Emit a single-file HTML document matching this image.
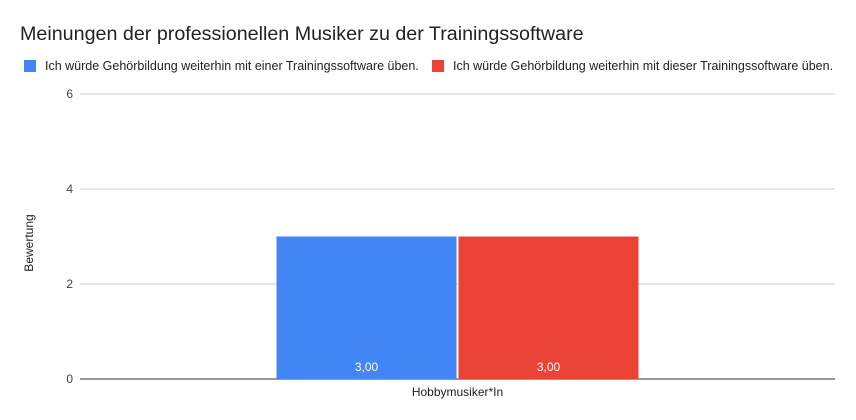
<!DOCTYPE html>
<html><head><meta charset="utf-8"><style>
body{margin:0;background:#fff;}
svg{display:block;font-family:"Liberation Sans",Arial,sans-serif;}
</style></head><body>
<svg id="chart" width="856" height="420">
<text x="20" y="40" font-size="19.7" fill="#222">Meinungen der professionellen Musiker zu der Trainingssoftware</text>
<g>
<rect x="24" y="60" width="12" height="12" fill="#4285f4"/>
<text x="45" y="70" font-size="12.5" fill="#222">Ich würde Gehörbildung weiterhin mit einer Trainingssoftware üben.</text>
<rect x="432" y="60" width="12" height="12" fill="#ea4335"/>
<text x="453" y="70" font-size="12.5" fill="#222">Ich würde Gehörbildung weiterhin mit dieser Trainingssoftware üben.</text>
</g>
<text transform="translate(33,243) rotate(-90)" text-anchor="middle" font-size="12" fill="#222">Bewertung</text>
<g id="grid"></g><g id="bars"></g>
</svg>
<script>
const categories=["Hobbymusiker*In"];
const seriesA=[3];
const seriesB=[3];
const yTicks=[0,2,4,6];
const yTickLabels=["0","2","4","6"];
const ns="http://www.w3.org/2000/svg";
const x0=80,x1=835,yTop=94,yBot=379,yMax=6;
const y=v=>yBot-(v/yMax)*(yBot-yTop);
const grid=document.getElementById('grid'),bars=document.getElementById('bars');
function mk(t,a,p){const e=document.createElementNS(ns,t);for(const k in a)e.setAttribute(k,a[k]);p.appendChild(e);return e;}
yTicks.forEach((t,i)=>{
 const l=mk('line',{x1:x0,x2:x1,y1:y(t),y2:y(t),stroke:t===0?'#333':'#ccc','stroke-width':1},grid);
 
 
 const tx=mk('text',{x:73,y:y(t)+4,'text-anchor':'end','font-size':12,fill:'#444'},grid);
 tx.textContent=yTickLabels[i];
 
 
});
const bw=(x1-x0)/categories.length;
categories.forEach((c,i)=>{
 const cx=x0+bw*(i+0.5);
 const w=180;
 [[seriesA[i],'#4285f4',cx-w-1],[seriesB[i],'#ea4335',cx+1]].forEach((s,j)=>{
  const r=mk('rect',{x:s[2],y:y(s[0]),width:w,height:yBot-y(s[0]),fill:s[1]},bars);
  
  
  const t=mk('text',{x:s[2]+w/2,y:yBot-8,'text-anchor':'middle','font-size':12,fill:'#fff'},bars);
  t.textContent=s[0].toFixed(2).replace('.',',');
  
  
 });
 const xl=mk('text',{x:cx,y:396,'text-anchor':'middle','font-size':12,fill:'#222'},bars);
 xl.textContent=c;
 
 
});
</script>
</body></html>
